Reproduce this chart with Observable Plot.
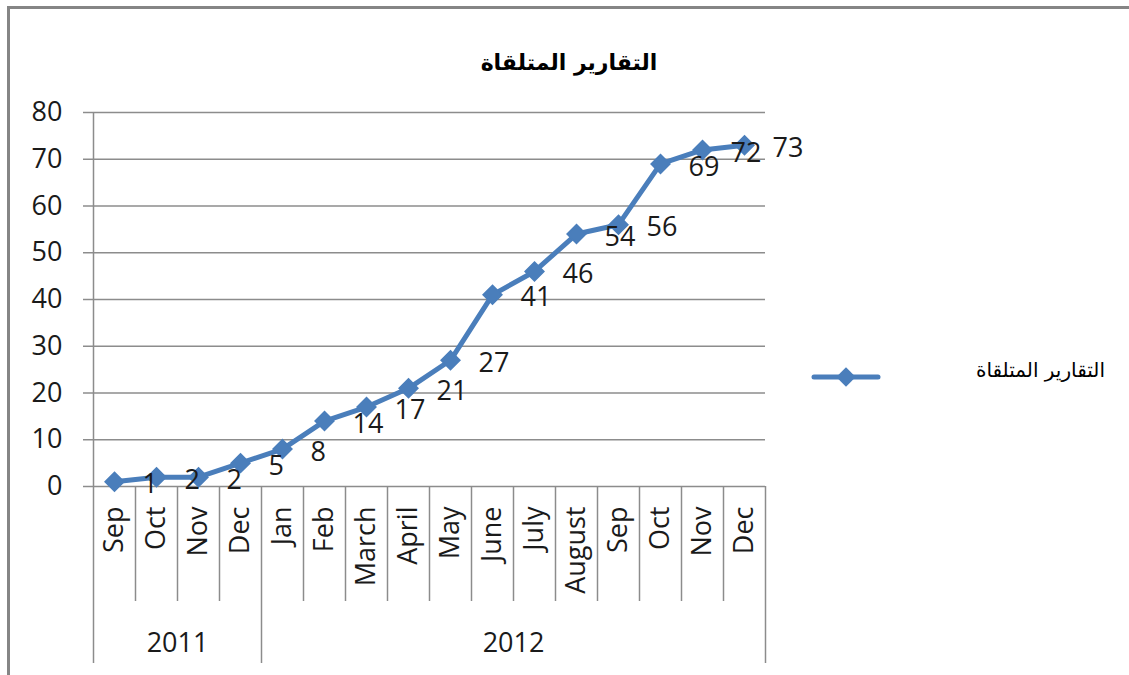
<!DOCTYPE html>
<html>
<head>
<meta charset="utf-8">
<script src="https://cdn.jsdelivr.net/npm/d3@7"></script>
<script src="https://cdn.jsdelivr.net/npm/@observablehq/plot@0.6"></script>
<style>
  html, body { margin: 0; padding: 0; background: #fff; }
  #wrap { position: relative; width: 1129px; height: 675px; overflow: hidden; background: #fff; }
  #wrap > svg.chart { position: absolute; left: 0; top: 0; }
  #frame { position: absolute; left: 7px; top: 6px; width: 1200px; height: 800px;
           border-top: 3px solid #858585; border-left: 3px solid #858585; }
  #title { position: absolute; left: 0; width: 1138px; top: 50px; text-align: center;
           font-family: "DejaVu Sans", sans-serif; font-weight: bold; font-size: 22px; direction: rtl; color: #000; }
  #legendText { position: absolute; right: 24px; top: 358px; font-family: "DejaVu Sans", sans-serif;
           font-size: 20px; direction: rtl; color: #000; }
  #wrap > svg#legendKey { position: absolute; left: 808px; top: 362px; }
</style>
</head>
<body>
<div id="wrap">
  <div id="frame"></div>
  <div id="title"></div>
  <svg id="legendKey" width="80" height="30"></svg>
  <div id="legendText"></div>
</div>
<script>
const title = "التقارير المتلقاة";
const seriesName = "التقارير المتلقاة";
const months = ["Sep","Oct","Nov","Dec","Jan","Feb","March","April","May","June","July","August","Sep","Oct","Nov","Dec"];
const years = ["2011","2012"];
const monthsPerYear = [4, 12];
const reports = [1,2,2,5,8,14,17,21,27,41,46,54,56,69,72,73];
const yTicks = [0,10,20,30,40,50,60,70,80];

const blue = "#4a7ebb";
const gray = "#8c8c8c";

const data = months.map((m, i) => ({pos: i + 0.5, month: m, value: reports[i]}));
const monthCenters = data.map(d => d.pos);
const monthBounds = d3.range(1, months.length).filter(b => !d3.cumsum(monthsPerYear).includes(b));
const yearBounds = [0, ...d3.cumsum(monthsPerYear)];
const yearCenters = years.map((y, k) => (yearBounds[k] + yearBounds[k + 1]) / 2);

const chart = Plot.plot({
  width: 1129,
  height: 675,
  marginLeft: 93,
  marginRight: 364,
  marginTop: 112,
  marginBottom: 189,
  x: {domain: [0, months.length]},
  y: {domain: [0, 80]},
  style: {fontFamily: "'Open Sans', sans-serif", color: "#1a1a1a", background: "transparent"},
  marks: [
    Plot.gridY(yTicks, {stroke: gray, strokeOpacity: 1, strokeWidth: 1.5}),
    Plot.axisY(yTicks, {tickSize: 10, tickPadding: 21, stroke: gray, strokeWidth: 1.5, fontSize: 27, label: null}),
    Plot.ruleX([0], {stroke: gray, strokeWidth: 1.5}),
    Plot.axisX(monthBounds, {tickSize: 115, tickFormat: () => "", stroke: gray, strokeWidth: 1.5, label: null}),
    Plot.axisX(yearBounds, {tickSize: 177, tickFormat: () => "", stroke: gray, strokeWidth: 1.5, label: null}),
    Plot.axisX(monthCenters, {tickSize: 0, tickRotate: -90, tickPadding: 20, fontSize: 27,
      tickFormat: d => months[Math.floor(d)], label: null}),
    Plot.axisX(yearCenters, {tickSize: 0, tickPadding: 146, fontSize: 27,
      tickFormat: d => years[yearCenters.indexOf(d)], label: null}),
    Plot.line(data, {x: "pos", y: "value", stroke: blue, strokeWidth: 5}),
    Plot.dot(data, {x: "pos", y: "value", symbol: "diamond2", r: 8.5, fill: blue, stroke: blue}),
    Plot.text(data, {x: "pos", y: "value", text: "value", dx: 28, dy: 3, textAnchor: "start",
      lineAnchor: "middle", fontSize: 27, fill: "#1a1a1a"})
  ]
});
chart.classList.add("chart");
document.getElementById("wrap").insertBefore(chart, document.getElementById("frame"));
document.getElementById("title").textContent = title;
document.getElementById("legendText").textContent = seriesName;

const key = d3.select("#legendKey");
key.append("line").attr("x1", 6).attr("x2", 70).attr("y1", 15).attr("y2", 15)
  .attr("stroke", blue).attr("stroke-width", 5).attr("stroke-linecap", "round");
key.append("path").attr("transform", "translate(38,15)")
  .attr("d", d3.symbol(d3.symbolDiamond2, 240)()).attr("fill", blue);
</script>
</body>
</html>
